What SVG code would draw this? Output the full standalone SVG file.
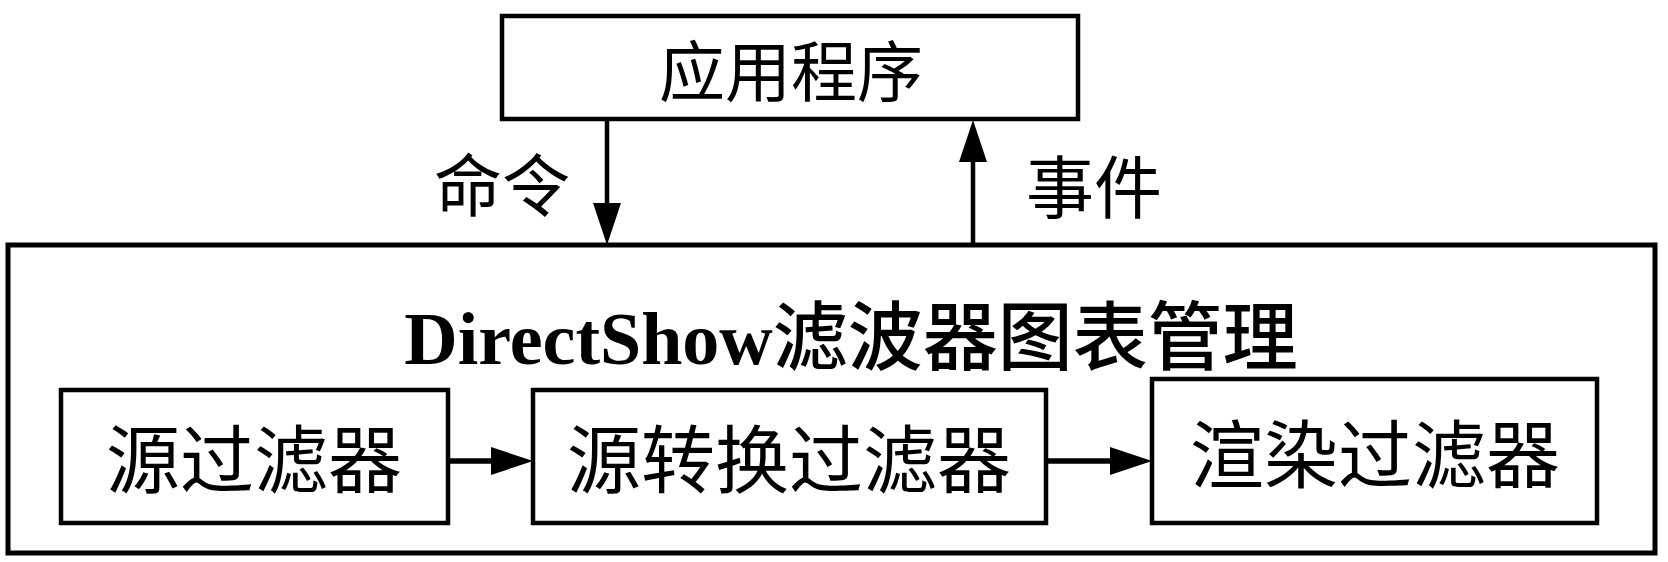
<svg xmlns="http://www.w3.org/2000/svg" width="1668" height="562" viewBox="0 0 1668 562">
<style>
.box{fill:#fff;stroke:#000;stroke-width:4.5}
.outer{fill:none;stroke:#000;stroke-width:5}
.lbl{font-family:"Noto Sans CJK SC","Noto Sans CJK JP",sans-serif;font-size:74px;fill:#000;text-anchor:middle;dominant-baseline:central}
.title{font-family:"Liberation Serif","Noto Sans CJK SC",serif;font-size:74px;font-weight:bold;fill:#000;text-anchor:middle}
.cjk{font-family:"Noto Sans CJK SC","Noto Sans CJK JP",sans-serif;font-weight:500;font-size:75px}
.conn{stroke:#000;stroke-width:4.5;fill:none}
.flow{stroke:#000;stroke-width:5.5;fill:none}
</style>
<defs>
<marker id="ah" markerUnits="userSpaceOnUse" markerWidth="42" markerHeight="28" refX="0" refY="14" orient="auto" overflow="visible">
<path d="M0,0 L42,14 L0,28 z" fill="#000"/>
</marker>
</defs>
<g id="manager">
<rect class="outer" x="8" y="245" width="1647" height="308"/>
<text class="title" x="851" y="364">DirectShow<tspan class="cjk">滤波器图表管理</tspan></text>
</g>
<g id="app">
<rect class="box" x="502" y="16" width="576" height="103"/>
<text class="lbl" x="791" y="67" style="font-size:66px">应用程序</text>
</g>
<g id="source-filter">
<rect class="box" x="61" y="390" width="387" height="133"/>
<text class="lbl" x="254" y="454">源过滤器</text>
</g>
<g id="transform-filter">
<rect class="box" x="533" y="390" width="513" height="133"/>
<text class="lbl" x="789" y="454">源转换过滤器</text>
</g>
<g id="render-filter">
<rect class="box" x="1152" y="379" width="445" height="144"/>
<text class="lbl" x="1375" y="449">渲染过滤器</text>
</g>
<g id="connectors">
<line class="conn" x1="607" y1="119" x2="607" y2="203" marker-end="url(#ah)"/>
<line class="conn" x1="973" y1="245" x2="973" y2="162" marker-end="url(#ah)"/>
<line class="flow" x1="448" y1="461" x2="491" y2="461" marker-end="url(#ah)"/>
<line class="flow" x1="1046" y1="461" x2="1110" y2="461" marker-end="url(#ah)"/>
<text class="lbl" x="502" y="181" style="font-size:68px">命令</text>
<text class="lbl" x="1094" y="183" style="font-size:68px">事件</text>
</g>
</svg>
